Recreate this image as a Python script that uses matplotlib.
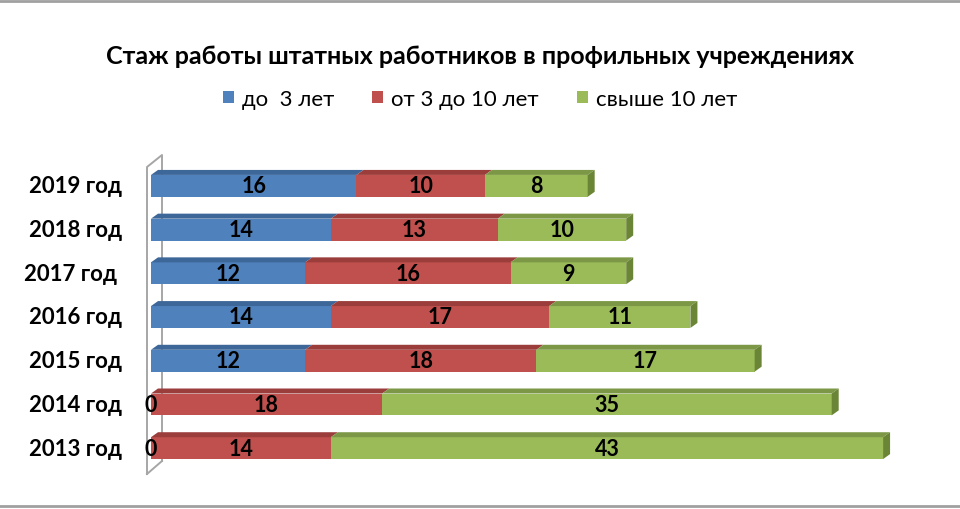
import matplotlib
matplotlib.use("Agg")
import matplotlib.pyplot as plt
from matplotlib.patches import Polygon, Patch
from matplotlib.lines import Line2D

plt.rcParams['font.family'] = ['Lato', 'DejaVu Sans']

years = ['2013 год', '2014 год', '2015 год', '2016 год', '2017 год ', '2018 год', '2019 год']
do3 = [0, 0, 12, 14, 12, 14, 16]
ot3do10 = [14, 18, 18, 17, 16, 13, 10]
svyshe10 = [43, 35, 17, 11, 9, 10, 8]
series_names = ['до  3 лет', 'от 3 до 10 лет', 'свыше 10 лет']

front = ['#4F81BD', '#C0504D', '#9BBB59']
top = ['#3D6799', '#9A3D3B', '#7C9847']
side = '#6A8535'

fig = plt.figure(figsize=(9.6, 5.1), dpi=100)
ax = fig.add_axes([151/960, 39/510, 770.6/960, 306/510])
ax.set_xlim(0, 60)
ax.set_ylim(-0.5, 6.5)
ax.axis('off')

# pixel -> data conversion for the 3d depth
W = 770.6
H = 306
ux = 60 / W
uy = 7 / H
dx = 7 * ux
dy = 5 * uy
h = 0.5

y = list(range(len(years)))
data = [do3, ot3do10, svyshe10]

# wall
wall = dict(color='#A6A6A6', lw=1.4, clip_on=False)
fx, bx = -4 * ux, 11 * ux
ax.add_line(Line2D([fx, fx, bx, bx], [-0.5 - 4*uy, 6.5 - 3*uy, 6.5 + 9*uy, -0.5 + 9*uy], **wall))
ax.add_line(Line2D([fx, bx], [-0.5 - 4*uy, -0.5 + 9*uy], **wall))

left = [0] * len(years)
for s in range(3):
    vals = data[s]
    ax.barh(y, vals, left=left, height=h, color=front[s], edgecolor='none', zorder=2)
    for i in range(len(years)):
        l, v = left[i], vals[i]
        if v > 0:
            yt = y[i] + h / 2
            ax.add_patch(Polygon([(l, yt), (l + v, yt), (l + v + dx, yt + dy), (l + dx, yt + dy)],
                                 closed=True, facecolor=top[s], edgecolor='none', zorder=3))
        ax.text(l + v / 2, y[i], str(v), ha='center', va='center', fontsize=15.5,
                fontweight='bold', color='black', zorder=5)
    left = [left[i] + vals[i] for i in range(len(years))]

# right side faces
for i in range(len(years)):
    r = left[i]
    yb, yt = y[i] - h / 2, y[i] + h / 2
    ax.add_patch(Polygon([(r, yb), (r, yt), (r + dx, yt + dy), (r + dx, yb + dy)],
                         closed=True, facecolor=side, edgecolor='none', zorder=3))

for i in range(len(years)):
    ax.text(-29 * ux, y[i], years[i], ha='right', va='center', fontsize=16,
            fontweight='bold', clip_on=False)

fig.text(0.5, 1 - 57/510, 'Стаж работы штатных работников в профильных учреждениях',
         ha='center', va='center', fontsize=18, fontweight='bold')

handles = [Patch(facecolor=c, edgecolor='none') for c in front]
fig.legend(handles, series_names, loc='center', bbox_to_anchor=(0.5, 1 - 100/510), ncol=3,
           frameon=False, fontsize=16, handlelength=0.5, handleheight=0.5,
           handletextpad=0.36, columnspacing=1.7)

# chart border lines
fig.add_artist(Line2D([0, 1], [1 - 2/510, 1 - 2/510], color='#A0A0A0', lw=2, transform=fig.transFigure))
fig.add_artist(Line2D([0, 1], [3/510, 3/510], color='#A0A0A0', lw=2, transform=fig.transFigure))

fig.savefig('out.png', dpi=100)
